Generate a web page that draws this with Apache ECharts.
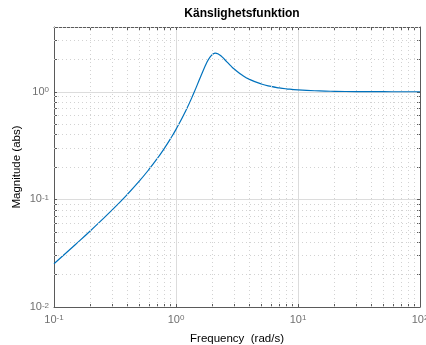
<!DOCTYPE html>
<html>
<head>
<meta charset="utf-8">
<script src="https://cdn.jsdelivr.net/npm/echarts@6/dist/echarts.min.js"></script>
<style>
  html, body { margin: 0; padding: 0; background: #fff; }
  #chart { width: 426px; height: 345px; }
</style>
</head>
<body>
<div id="chart"></div>
<script>
// frequency (rad/s) and |S|
const freq = [0.1, 0.15, 0.2, 0.3, 0.4, 0.5, 0.6, 0.7, 0.8, 0.9, 1.0, 1.2, 1.4, 1.6, 1.8, 1.9,
  2.0, 2.05, 2.1, 2.15, 2.2, 2.3, 2.4, 2.6, 2.8, 3.0, 3.5, 4, 5, 6, 7, 8, 10, 15, 20, 30, 50, 70, 100];
const magnitude = [0.0252, 0.0381, 0.0514, 0.0799, 0.1116, 0.1478, 0.1897, 0.2387, 0.2966, 0.3653,
  0.4472, 0.663, 0.9735, 1.4025, 1.897, 2.103, 2.236, 2.270, 2.283, 2.278, 2.258, 2.187, 2.097,
  1.910, 1.752, 1.627, 1.422, 1.304, 1.181, 1.121, 1.087, 1.066, 1.041, 1.018, 1.010, 1.0045,
  1.0016, 1.0008, 1.0004];

const xMajor = [0.1, 1, 10, 100];
const xMinor = [0.2, 0.3, 0.4, 0.5, 0.6, 0.7, 0.8, 0.9, 2, 3, 4, 5, 6, 7, 8, 9,
  20, 30, 40, 50, 60, 70, 80, 90];
const yMajor = [0.01, 0.1, 1];
const yMinor = [0.02, 0.03, 0.04, 0.05, 0.06, 0.07, 0.08, 0.09,
  0.2, 0.3, 0.4, 0.5, 0.6, 0.7, 0.8, 0.9, 2, 3, 4];

const xTicks = xMajor.concat(xMinor).sort((a, b) => a - b);
const yTicks = yMajor.concat(yMinor).sort((a, b) => a - b);

const font = '"Liberation Sans", Arial, Helvetica, sans-serif';
const axisColor = '#5a5a5a';
const labelColor = '#707070';

function powLabel(v) {
  const lg = Math.log10(v);
  const e = Math.round(lg);
  if (Math.abs(lg - e) > 1e-6) return '';
  return '{b|10}{s|' + e + '}';
}

const labelRich = {
  b: { fontSize: 11, fontFamily: font, color: labelColor },
  s: { fontSize: 8, fontFamily: font, color: labelColor, verticalAlign: 'top' }
};

function logAxis(dir, extra) {
  const base = {
    type: 'log',
    logBase: 10,
    min: dir === 'x' ? 0.1 : 0.01,
    max: dir === 'x' ? 100 : 4,
    axisLine: { show: false },
    axisTick: { show: false },
    axisLabel: { show: false },
    splitLine: { show: false }
  };
  return Object.assign(base, extra);
}

const chart = echarts.init(document.getElementById('chart'), null, { renderer: 'canvas' });

chart.setOption({
  animation: false,
  title: {
    text: 'Känslighetsfunktion',
    left: 237,
    textAlign: 'center',
    top: 3,
    textStyle: { fontFamily: font, fontSize: 12, fontWeight: 'bold', color: '#000' }
  },
  grid: { left: 54, right: 6, top: 27, bottom: 38, outerBoundsMode: 'none', containLabel: false },
  xAxis: [
    logAxis('x', {
      position: 'bottom',
      name: 'Frequency  (rad/s)',
      nameLocation: 'middle',
      nameGap: 26,
      nameMoveOverlap: false,
      nameTextStyle: { fontFamily: font, fontSize: 11.5, color: '#000' },
      axisLine: { show: true, lineStyle: { color: axisColor, width: 1 } },
      axisTick: { show: true, inside: true, length: 3, customValues: xTicks, lineStyle: { color: axisColor } },
      axisLabel: { show: true, margin: 7, formatter: powLabel, rich: labelRich }
    }),
    logAxis('x', {
      position: 'top',
      axisLine: { show: true, lineStyle: { color: axisColor, width: 1 } },
      axisTick: { show: true, inside: true, length: 3, customValues: xTicks, lineStyle: { color: axisColor } }
    }),
    logAxis('x', {
      position: 'bottom',
      splitLine: { show: true, lineStyle: { color: '#dcdcdc', width: 1 } }
    })
  ],
  yAxis: [
    logAxis('y', {
      position: 'left',
      name: 'Magnitude (abs)',
      nameLocation: 'middle',
      nameGap: 31,
      nameRotate: 90,
      nameMoveOverlap: false,
      nameTextStyle: { fontFamily: font, fontSize: 11.5, color: '#000' },
      axisLine: { show: true, lineStyle: { color: axisColor, width: 1 } },
      axisTick: { show: true, inside: true, length: 3, customValues: yTicks, lineStyle: { color: axisColor } },
      axisLabel: { show: true, margin: 5, formatter: powLabel, rich: labelRich }
    }),
    logAxis('y', {
      position: 'right',
      axisLine: { show: true, lineStyle: { color: axisColor, width: 1 } },
      axisTick: { show: true, inside: true, length: 3, customValues: yTicks, lineStyle: { color: axisColor } }
    }),
    logAxis('y', {
      position: 'left',
      splitLine: { show: true, lineStyle: { color: '#dcdcdc', width: 1 } }
    })
  ],
  series: [
    {
      // carries the dotted minor grid only
      type: 'line',
      data: freq.map((f, i) => [f, magnitude[i]]),
      showSymbol: false,
      silent: true,
      z: 1,
      lineStyle: { opacity: 0 },
      markLine: {
        silent: true,
        symbol: ['none', 'none'],
        label: { show: false },
        lineStyle: { type: [1, 3], color: '#d2d2d2', width: 1 },
        data: xMinor.map((v) => ({ xAxis: v })).concat(yMinor.map((v) => ({ yAxis: v })))
      }
    },
    {
      type: 'line',
      data: freq.map((f, i) => [f, magnitude[i]]),
      smooth: true,
      showSymbol: false,
      z: 3,
      lineStyle: { color: '#0072bd', width: 1.2 }
    }
  ]
});
</script>
</body>
</html>
